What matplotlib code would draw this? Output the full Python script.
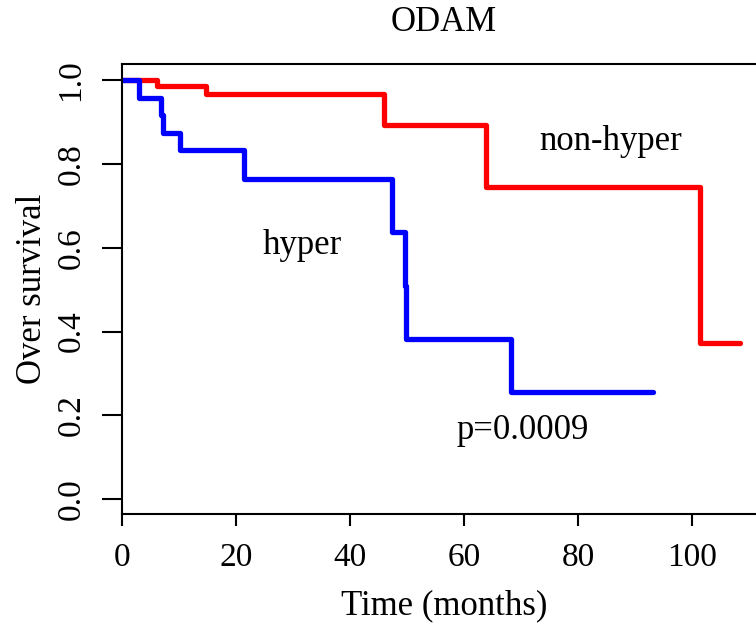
import matplotlib
matplotlib.use("Agg")
import matplotlib.pyplot as plt

plt.rcParams['font.family'] = ['Liberation Serif', 'DejaVu Serif']

# Kaplan-Meier steps (months, survival)
hyper_t = [0, 3.0, 6.8, 7.2, 10.2, 21.4, 47.3, 49.6, 49.9, 68.2, 93.1]
hyper_s = [1.0, 0.958, 0.917, 0.875, 0.833, 0.764, 0.637, 0.510, 0.382, 0.255, 0.255]

nonhyper_t = [0, 6.2, 14.8, 46.0, 63.8, 101.3, 108.4]
nonhyper_s = [1.0, 0.988, 0.967, 0.893, 0.745, 0.373, 0.373]

xticks = [0, 20, 40, 60, 80, 100]
yticks = [0.0, 0.2, 0.4, 0.6, 0.8, 1.0]

fig = plt.figure(figsize=(7.56, 6.23), dpi=100)
# box runs past the right edge of the picture, like the cropped original
ax = fig.add_axes([0.161, 0.175, 0.853, 0.722])

ax.step(nonhyper_t, nonhyper_s, where='post', color='#FF0000', lw=3.8,
        solid_capstyle='round', solid_joinstyle='round')
ax.step(hyper_t, hyper_s, where='post', color='#0000FF', lw=3.8,
        solid_capstyle='round', solid_joinstyle='round')

ax.set_xlim(0, 113)
ax.set_ylim(-0.036, 1.039)

for sp in ax.spines.values():
    sp.set_linewidth(1.5)

ax.set_xticks(xticks)
ax.set_yticks(yticks)
ax.set_yticklabels([f"{v:.1f}" for v in yticks], rotation=90, va='center')
ax.tick_params(axis='x', direction='out', length=8.6, width=1.5, pad=12, labelsize=24)
ax.tick_params(axis='y', direction='out', length=14.4, width=1.5, pad=11, labelsize=24)

ax.set_xlabel("Time (months)", fontsize=25, labelpad=12)
ax.set_ylabel("Over survival", fontsize=25, labelpad=5)
ax.set_title("ODAM", fontsize=25, pad=24)

ax.text(85.7, 0.853, "non-hyper", fontsize=25, ha='center', va='center')
ax.text(31.6, 0.606, "hyper", fontsize=25, ha='center', va='center')
ax.text(70.2, 0.164, "p=0.0009", fontsize=25, ha='center', va='center')

fig.savefig("out.png", dpi=100)
